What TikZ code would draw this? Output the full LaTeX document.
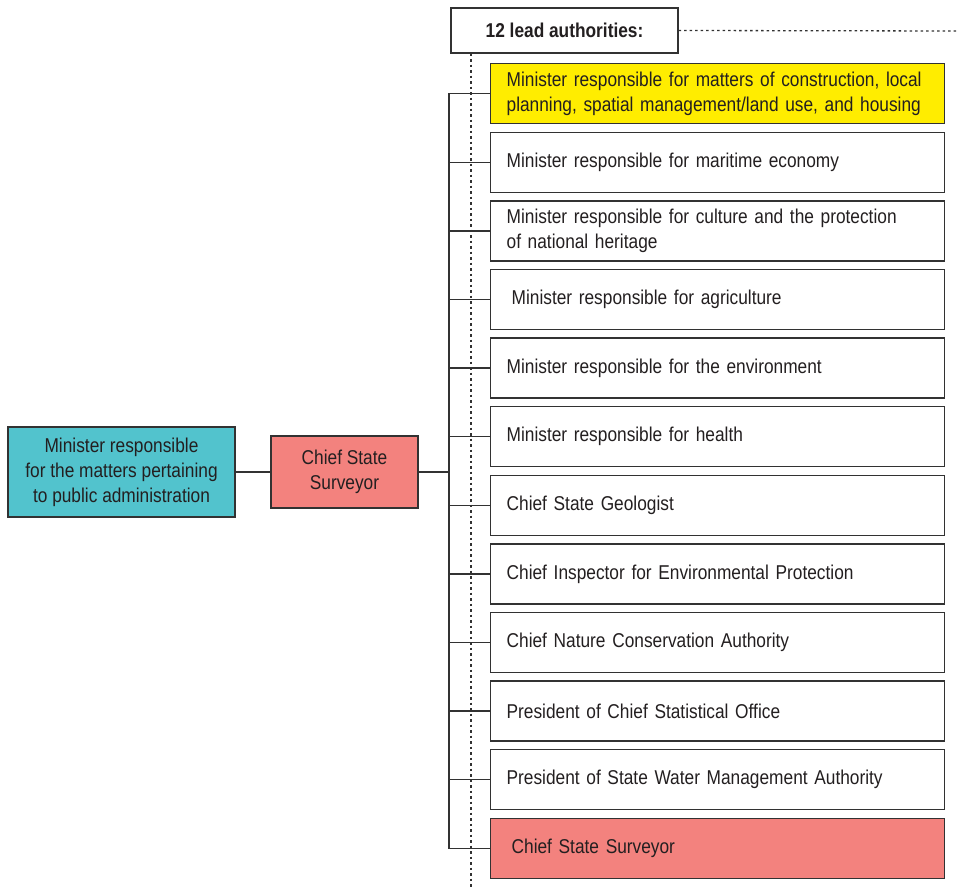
\documentclass[tikz,border=0pt]{standalone}
\usepackage{fontspec}
\setmainfont{Liberation Sans}[FakeStretch=0.865]
\usetikzlibrary{positioning}
\definecolor{leadyellow}{RGB}{255,237,0}
\definecolor{admincyan}{RGB}{82,195,205}
\definecolor{surveyred}{RGB}{243,130,126}
\definecolor{boxline}{RGB}{50,50,50}
\definecolor{inktext}{RGB}{35,31,32}
\newcommand{\boxfont}{\fontsize{20}{25}\selectfont}

\begin{document}
\begin{tikzpicture}[x=1pt,y=1pt,
  authbox/.style={draw=boxline, line width=1.3pt, fill=white, text=inktext,
    minimum width=454pt, minimum height=60pt, text width=422pt,
    inner xsep=16pt, inner ysep=0pt, align=left, font=\boxfont},
  sidebox/.style={draw=boxline, line width=1.3pt, text=inktext,
    inner sep=0pt, align=center, font=\boxfont},
  conn/.style={draw=boxline, line width=1.3pt},
  guide/.style={draw=boxline, line width=1.3pt, dash pattern=on 2.5pt off 3pt},
  node distance=7.3pt]
\useasboundingbox (0,0) rectangle (958,-888);

% header
\node[sidebox, fill=white, minimum width=227pt, minimum height=45pt,
  font=\boxfont\bfseries] (head) at (564.5,-30.5) {12 lead authorities:};

% the twelve authorities
\node[authbox, fill=leadyellow, anchor=north west] (a1) at (490,-63)
  {Minister responsible for matters of construction, local\\planning, spatial management/land use, and housing};
\node[authbox, below=of a1] (a2) {Minister responsible for maritime economy};
\node[authbox, below=of a2] (a3) {Minister responsible for culture and the protection\\of national heritage};
\node[authbox, below=of a3] (a4) {\hspace{5pt}Minister responsible for agriculture};
\node[authbox, below=of a4] (a5) {Minister responsible for the environment};
\node[authbox, below=of a5] (a6) {Minister responsible for health};
\node[authbox, below=of a6] (a7) {Chief State Geologist};
\node[authbox, below=of a7] (a8) {Chief Inspector for Environmental Protection};
\node[authbox, below=of a8] (a9) {Chief Nature Conservation Authority};
\node[authbox, below=of a9] (a10) {President of Chief Statistical Office};
\node[authbox, below=of a10] (a11) {President of State Water Management Authority};
\node[authbox, fill=surveyred, below=of a11] (a12) {\hspace{5pt}Chief State Surveyor};

% left side
\node[sidebox, fill=admincyan, minimum width=227pt, minimum height=90pt] (admin) at (121.5,-472)
  {Minister responsible\\for the matters pertaining\\to public administration};
\node[sidebox, fill=surveyred, minimum width=147pt, minimum height=72pt] (chief) at (344.5,-472)
  {Chief State\\Surveyor};

% bracket
\coordinate (spine) at (449,-472);
\draw[conn] (admin) -- (chief);
\draw[conn] (chief) -- (spine);
\draw[conn] (a1.west) -- (a1.west -| spine) -- (a12.west -| spine) -- (a12.west);
\draw[conn] (a2.west) -- (a2.west -| spine);
\draw[conn] (a3.west) -- (a3.west -| spine);
\draw[conn] (a4.west) -- (a4.west -| spine);
\draw[conn] (a5.west) -- (a5.west -| spine);
\draw[conn] (a6.west) -- (a6.west -| spine);
\draw[conn] (a7.west) -- (a7.west -| spine);
\draw[conn] (a8.west) -- (a8.west -| spine);
\draw[conn] (a9.west) -- (a9.west -| spine);
\draw[conn] (a10.west) -- (a10.west -| spine);
\draw[conn] (a11.west) -- (a11.west -| spine);

% dotted guides
\coordinate (rightend) at (958,-31);
\coordinate (bottomend) at (471,-888);
\draw[guide] (head.east) -- (rightend);
\draw[guide] (bottomend |- head.south) -- (bottomend);
\end{tikzpicture}
\end{document}
